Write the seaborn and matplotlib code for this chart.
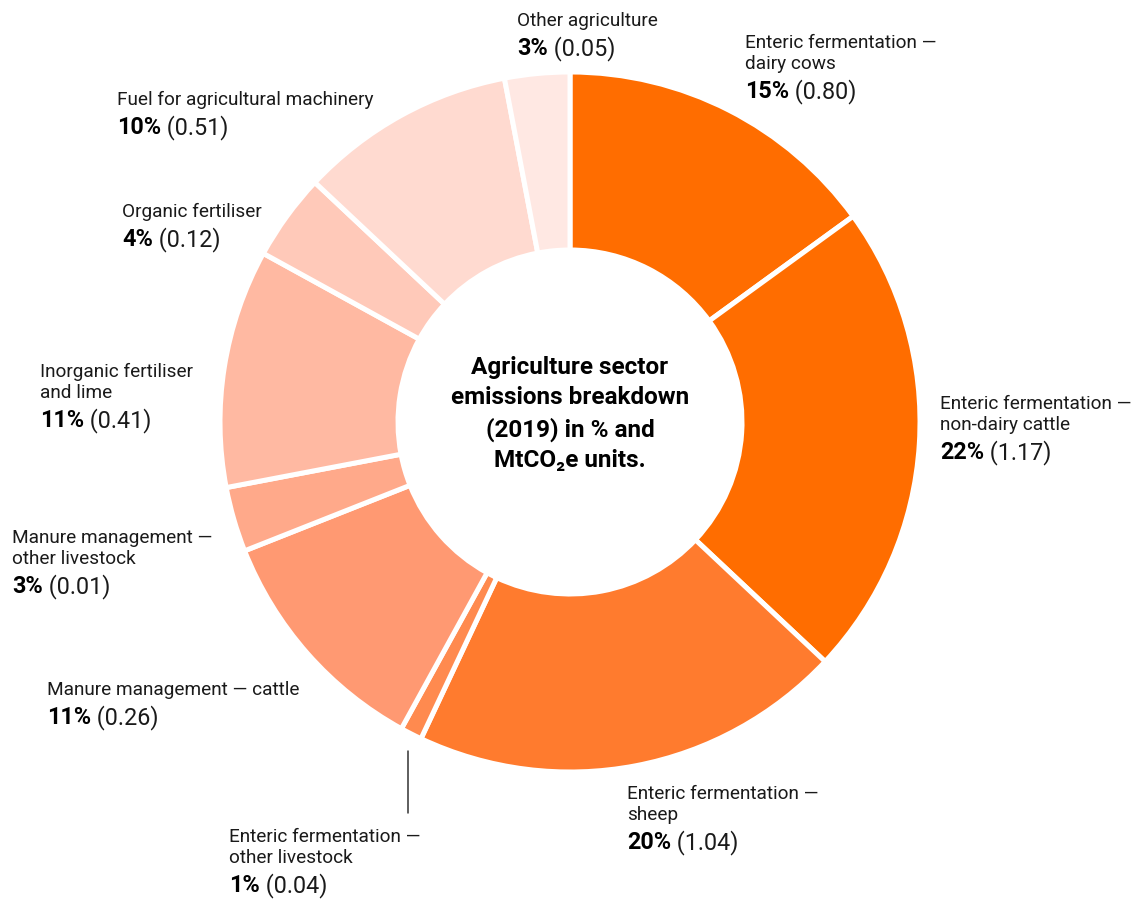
import numpy as np
import matplotlib
matplotlib.use("Agg")
import matplotlib.pyplot as plt
import seaborn as sns

# --- data -------------------------------------------------------------
categories = [
    "Enteric fermentation —\ndairy cows",
    "Enteric fermentation —\nnon-dairy cattle",
    "Enteric fermentation —\nsheep",
    "Enteric fermentation —\nother livestock",
    "Manure management — cattle",
    "Manure management —\nother livestock",
    "Inorganic fertiliser\nand lime",
    "Organic fertiliser",
    "Fuel for agricultural machinery",
    "Other agriculture",
]
shares_pct = [15, 22, 20, 1, 11, 3, 11, 4, 10, 3]
emissions_mt = [0.80, 1.17, 1.04, 0.04, 0.26, 0.01, 0.41, 0.12, 0.51, 0.05]
title_text = "Agriculture sector\nemissions breakdown\n(2019) in % and\nMtCO₂e units."

# --- styling ----------------------------------------------------------
sns.set_theme(style="white")
plt.rcParams["font.family"] = ["Roboto", "DejaVu Sans"]

palette = sns.color_palette([
    "#FF6D00", "#FF6D00", "#FF7B2E", "#FF8A4F", "#FF9972",
    "#FFA98A", "#FFB9A2", "#FFC9B9", "#FFDAD0", "#FFE8E3",
])
TEXT = "#1a1a1a"

W, H = 1142, 899
fig = plt.figure(figsize=(W / 100, H / 100), dpi=100)
ax = fig.add_axes([0, 0, 1, 1])

cx, cy = 570, H - 422
r_out, ring = 350, 178

wedges, _ = ax.pie(
    shares_pct,
    colors=palette,
    startangle=90,
    counterclock=False,
    center=(cx, cy),
    radius=r_out,
    wedgeprops=dict(width=ring, edgecolor="white", linewidth=3.6),
)
ax.set_xlim(0, W)
ax.set_ylim(0, H)
ax.set_aspect("equal")
ax.axis("off")

# centre title
ax.text(cx, H - 414, title_text, ha="center", va="center", fontsize=17.5,
        fontweight="bold", color="black", linespacing=1.4)

# label anchors: left x and baseline of first line (pixels from top)
label_pos = [
    (745, 48), (940, 409), (627, 799), (229, 842), (47, 695),
    (12, 543), (40, 377), (122, 217), (117, 105), (517, 26),
]

fig.canvas.draw()
renderer = fig.canvas.get_renderer()

CAT_FS, VAL_FS = 13.7, 16.8
CAT_STEP, VAL_STEP = 21, 29

for cat, pct, val, (lx, ly) in zip(categories, shares_pct, emissions_mt, label_pos):
    y = H - ly
    lines = cat.split("\n")
    for i, line in enumerate(lines):
        ax.text(lx, y, line, ha="left", va="baseline", fontsize=CAT_FS, color=TEXT)
        if i < len(lines) - 1:
            y -= CAT_STEP
    y -= VAL_STEP
    bold = ax.text(lx, y, f"{pct}%", ha="left", va="baseline", fontsize=VAL_FS,
                   fontweight="bold", color="black")
    w = bold.get_window_extent(renderer).width
    ax.text(lx + w, y, f" ({val:.2f})", ha="left", va="baseline",
            fontsize=VAL_FS, color=TEXT)

# leader line for the thin slice
thin = wedges[3]
mid = np.deg2rad((thin.theta1 + thin.theta2) / 2)
lx0 = cx + (r_out + 6) * np.cos(mid)
ly0 = cy + (r_out + 6) * np.sin(mid)
ax.plot([lx0, lx0], [ly0 - 12, H - 813], color="#333333", lw=1.1)

fig.savefig("out.png", dpi=100, facecolor="white")
